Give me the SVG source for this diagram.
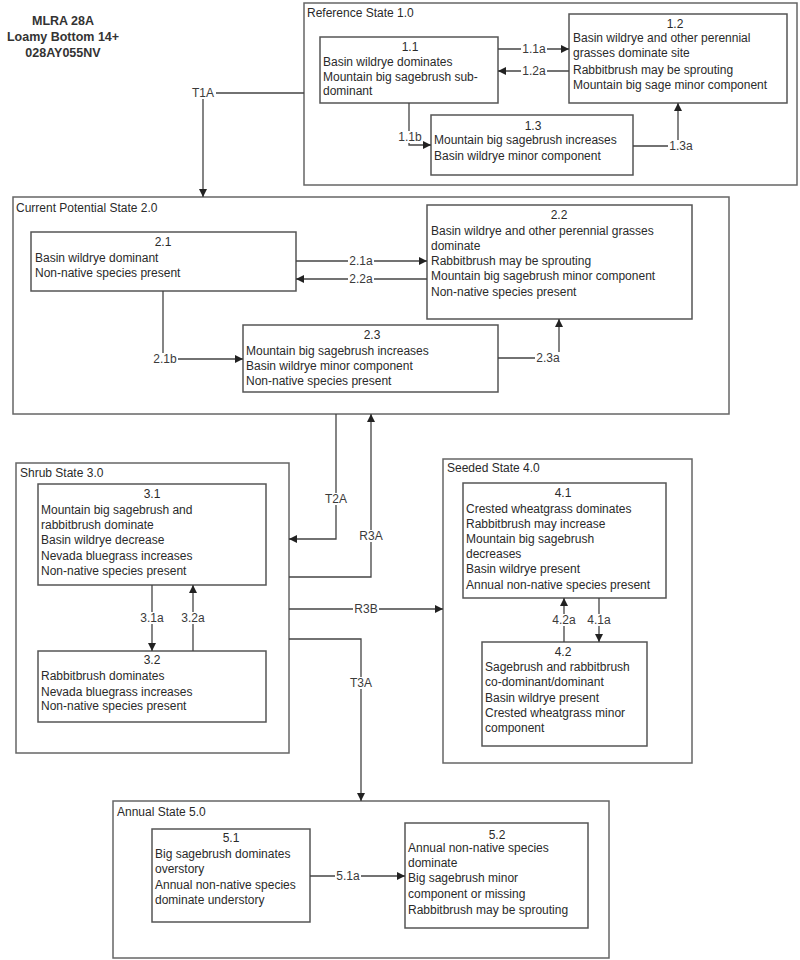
<svg xmlns="http://www.w3.org/2000/svg" width="800" height="960" viewBox="0 0 800 960">
<style>
  .state{fill:none;stroke:#666;stroke-width:1.5}
  .box{fill:#fff;stroke:#555;stroke-width:1.5}
  text{font-family:"Liberation Sans",Arial,sans-serif;font-size:12px;fill:#2a2a2a}
  .title{font-weight:bold;font-size:12.5px;text-anchor:middle;fill:#333}
  .c{text-anchor:middle}
  .conn{fill:none;stroke:#444;stroke-width:1.3}
  .bg{fill:#fff}
  .lbl{text-anchor:middle;dominant-baseline:central;fill:#3a3a3a}
</style>
<defs>
  <marker id="ah" markerWidth="8" markerHeight="8" refX="8" refY="4" orient="auto" markerUnits="userSpaceOnUse">
    <path d="M0,0 L8,4 L0,8 z" fill="#222"/>
  </marker>
</defs>
<rect width="800" height="960" fill="#fff"/>

<g id="title">
  <text class="title" x="63" y="25">MLRA 28A</text>
  <text class="title" x="63" y="41">Loamy Bottom 14+</text>
  <text class="title" x="63" y="57">028AY055NV</text>
</g>

<g id="state1">
  <rect class="state" x="304" y="3" width="493" height="182"/>
  <text x="307" y="17">Reference State 1.0</text>
</g>
<g id="n1_1">
  <rect class="box" x="320" y="37" width="178" height="66"/>
  <text class="c" x="410" y="51">1.1</text>
  <text x="323" y="66">Basin wildrye dominates</text>
  <text x="323" y="81">Mountain big sagebrush sub-</text>
  <text x="323" y="95">dominant</text>
</g>
<g id="n1_2">
  <rect class="box" x="569" y="14" width="218" height="89"/>
  <text class="c" x="675" y="28">1.2</text>
  <text x="573" y="42">Basin wildrye and other perennial</text>
  <text x="573" y="57">grasses dominate site</text>
  <text x="573" y="74">Rabbitbrush may be sprouting</text>
  <text x="573" y="89">Mountain big sage minor component</text>
</g>
<g id="n1_3">
  <rect class="box" x="431" y="115" width="202" height="60"/>
  <text class="c" x="533" y="130">1.3</text>
  <text x="434" y="144">Mountain big sagebrush increases</text>
  <text x="434" y="160">Basin wildrye minor component</text>
</g>

<g id="state2">
  <rect class="state" x="13" y="197" width="716" height="217"/>
  <text x="16" y="212">Current Potential State 2.0</text>
</g>
<g id="n2_1">
  <rect class="box" x="31" y="232" width="265" height="59"/>
  <text class="c" x="163" y="246">2.1</text>
  <text x="35" y="262">Basin wildrye dominant</text>
  <text x="35" y="277">Non-native species present</text>
</g>
<g id="n2_2">
  <rect class="box" x="427" y="205" width="265" height="114"/>
  <text class="c" x="559" y="219">2.2</text>
  <text x="431" y="235">Basin wildrye and other perennial grasses</text>
  <text x="431" y="250">dominate</text>
  <text x="431" y="265">Rabbitbrush may be sprouting</text>
  <text x="431" y="280">Mountain big sagebrush minor component</text>
  <text x="431" y="296">Non-native species present</text>
</g>
<g id="n2_3">
  <rect class="box" x="243" y="325" width="255" height="67"/>
  <text class="c" x="372" y="339">2.3</text>
  <text x="246" y="355">Mountain big sagebrush increases</text>
  <text x="246" y="370">Basin wildrye minor component</text>
  <text x="246" y="385">Non-native species present</text>
</g>

<g id="state3">
  <rect class="state" x="16" y="463" width="273" height="290"/>
  <text x="20" y="477">Shrub State 3.0</text>
</g>
<g id="n3_1">
  <rect class="box" x="38" y="484" width="228" height="101"/>
  <text class="c" x="152" y="498">3.1</text>
  <text x="41" y="514">Mountain big sagebrush and</text>
  <text x="41" y="529">rabbitbrush dominate</text>
  <text x="41" y="544">Basin wildrye decrease</text>
  <text x="41" y="560">Nevada bluegrass increases</text>
  <text x="41" y="575">Non-native species present</text>
</g>
<g id="n3_2">
  <rect class="box" x="38" y="651" width="228" height="71"/>
  <text class="c" x="152" y="664">3.2</text>
  <text x="41" y="680">Rabbitbrush dominates</text>
  <text x="41" y="696">Nevada bluegrass increases</text>
  <text x="41" y="710">Non-native species present</text>
</g>

<g id="state4">
  <rect class="state" x="443" y="459" width="249" height="304"/>
  <text x="447" y="472">Seeded State 4.0</text>
</g>
<g id="n4_1">
  <rect class="box" x="463" y="483" width="203" height="115"/>
  <text class="c" x="563" y="497">4.1</text>
  <text x="466" y="513">Crested wheatgrass dominates</text>
  <text x="466" y="528">Rabbitbrush may increase</text>
  <text x="466" y="543">Mountain big sagebrush</text>
  <text x="466" y="558">decreases</text>
  <text x="466" y="573">Basin wildrye present</text>
  <text x="466" y="589">Annual non-native species present</text>
</g>
<g id="n4_2">
  <rect class="box" x="482" y="642" width="165" height="104"/>
  <text class="c" x="563" y="656">4.2</text>
  <text x="485" y="671">Sagebrush and rabbitbrush</text>
  <text x="485" y="686">co-dominant/dominant</text>
  <text x="485" y="702">Basin wildrye present</text>
  <text x="485" y="717">Crested wheatgrass minor</text>
  <text x="485" y="732">component</text>
</g>

<g id="state5">
  <rect class="state" x="113" y="801" width="496" height="157"/>
  <text x="117" y="816">Annual State 5.0</text>
</g>
<g id="n5_1">
  <rect class="box" x="152" y="829" width="158" height="93"/>
  <text class="c" x="231" y="842">5.1</text>
  <text x="155" y="858">Big sagebrush dominates</text>
  <text x="155" y="873">overstory</text>
  <text x="155" y="889">Annual non-native species</text>
  <text x="155" y="904">dominate understory</text>
</g>
<g id="n5_2">
  <rect class="box" x="405" y="823" width="183" height="105"/>
  <text class="c" x="497" y="839">5.2</text>
  <text x="408" y="852">Annual non-native species</text>
  <text x="408" y="867">dominate</text>
  <text x="408" y="882">Big sagebrush minor</text>
  <text x="408" y="898">component or missing</text>
  <text x="408" y="914">Rabbitbrush may be sprouting</text>
</g>

<g id="connectors">
  <path class="conn" d="M498,49 H569" marker-end="url(#ah)"/>
  <path class="conn" d="M569,71 H498" marker-end="url(#ah)"/>
  <path class="conn" d="M409,103 V145 H431" marker-end="url(#ah)"/>
  <path class="conn" d="M633,146 H678 V103" marker-end="url(#ah)"/>
  <path class="conn" d="M304,93 H203 V197" marker-end="url(#ah)"/>
  <path class="conn" d="M296,261 H427" marker-end="url(#ah)"/>
  <path class="conn" d="M427,279 H296" marker-end="url(#ah)"/>
  <path class="conn" d="M163,291 V359 H243" marker-end="url(#ah)"/>
  <path class="conn" d="M498,358 H559 V319" marker-end="url(#ah)"/>
  <path class="conn" d="M336,414 V539 H289" marker-end="url(#ah)"/>
  <path class="conn" d="M289,577 H371 V414" marker-end="url(#ah)"/>
  <path class="conn" d="M289,609 H443" marker-end="url(#ah)"/>
  <path class="conn" d="M289,639 H361 V801" marker-end="url(#ah)"/>
  <path class="conn" d="M152,585 V651" marker-end="url(#ah)"/>
  <path class="conn" d="M193,651 V585" marker-end="url(#ah)"/>
  <path class="conn" d="M564,642 V598" marker-end="url(#ah)"/>
  <path class="conn" d="M599,598 V642" marker-end="url(#ah)"/>
  <path class="conn" d="M310,876 H405" marker-end="url(#ah)"/>
  <rect class="bg" x="521" y="43" width="26" height="12"/>
  <text class="lbl" x="534" y="49">1.1a</text>
  <rect class="bg" x="521" y="65" width="26" height="12"/>
  <text class="lbl" x="534" y="71">1.2a</text>
  <rect class="bg" x="397" y="131" width="26" height="12"/>
  <text class="lbl" x="410" y="137">1.1b</text>
  <rect class="bg" x="668" y="140" width="26" height="12"/>
  <text class="lbl" x="681" y="146">1.3a</text>
  <rect class="bg" x="190" y="87" width="26" height="12"/>
  <text class="lbl" x="203" y="93">T1A</text>
  <rect class="bg" x="348" y="255" width="26" height="12"/>
  <text class="lbl" x="361" y="261">2.1a</text>
  <rect class="bg" x="348" y="273" width="26" height="12"/>
  <text class="lbl" x="361" y="279">2.2a</text>
  <rect class="bg" x="152" y="353" width="26" height="12"/>
  <text class="lbl" x="165" y="359">2.1b</text>
  <rect class="bg" x="535" y="352" width="26" height="12"/>
  <text class="lbl" x="548" y="358">2.3a</text>
  <rect class="bg" x="323" y="493" width="26" height="12"/>
  <text class="lbl" x="336" y="499">T2A</text>
  <rect class="bg" x="358" y="530" width="26" height="12"/>
  <text class="lbl" x="371" y="536">R3A</text>
  <rect class="bg" x="353" y="603" width="26" height="12"/>
  <text class="lbl" x="366" y="609">R3B</text>
  <rect class="bg" x="348" y="677" width="26" height="12"/>
  <text class="lbl" x="361" y="683">T3A</text>
  <rect class="bg" x="139" y="612" width="26" height="12"/>
  <text class="lbl" x="152" y="618">3.1a</text>
  <rect class="bg" x="180" y="612" width="26" height="12"/>
  <text class="lbl" x="193" y="618">3.2a</text>
  <rect class="bg" x="551" y="614" width="26" height="12"/>
  <text class="lbl" x="564" y="620">4.2a</text>
  <rect class="bg" x="586" y="614" width="26" height="12"/>
  <text class="lbl" x="599" y="620">4.1a</text>
  <rect class="bg" x="335" y="870" width="26" height="12"/>
  <text class="lbl" x="348" y="876">5.1a</text>
</g>
</svg>
